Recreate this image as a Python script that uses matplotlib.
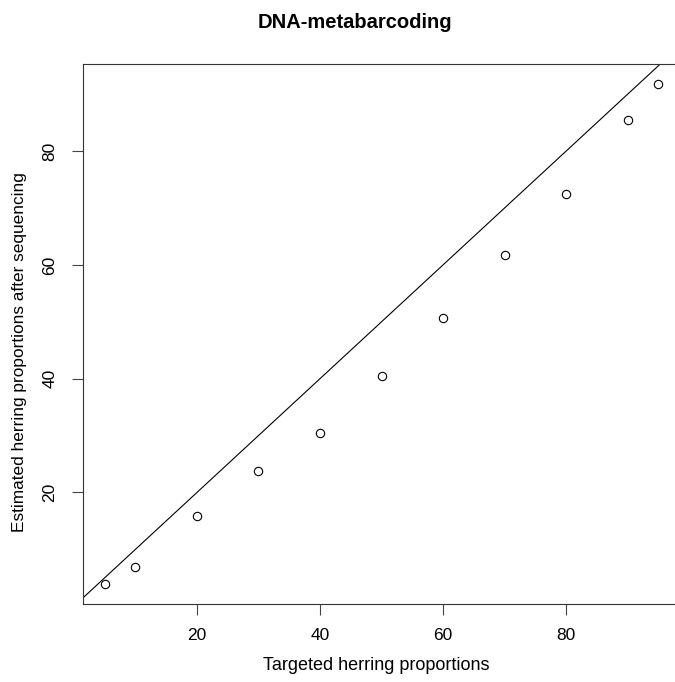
import matplotlib
matplotlib.use("Agg")
import matplotlib.pyplot as plt
import numpy as np

targeted = [5, 10, 20, 30, 40, 50, 60, 70, 80, 90, 95]
estimated = [3.9, 6.8, 15.9, 23.7, 30.4, 40.4, 50.6, 61.8, 72.4, 85.5, 91.9]
ticks = [20, 40, 60, 80]
title = "DNA-metabarcoding"
xlabel = "Targeted herring proportions"
ylabel = "Estimated herring proportions after sequencing"

plt.rcParams['font.family'] = ['Liberation Sans', 'DejaVu Sans']

W, H = 675, 682
fig = plt.figure(figsize=(W / 100, H / 100), dpi=100)

left, right, top, bottom = 82.6, 680.4, 63.5, 604.0
ax = fig.add_axes([left / W, 1 - bottom / H, (right - left) / W, (bottom - top) / H])

def rlim(v):
    lo, hi = min(v), max(v)
    d = (hi - lo) * 0.04
    return lo - d, hi + d

ax.plot(targeted, estimated, linestyle='none', marker='o', markersize=6,
        markerfacecolor='none', markeredgecolor='black', markeredgewidth=0.8)
xl = rlim(targeted)
yl = rlim(estimated)
ax.set_xlim(*xl)
ax.set_ylim(*yl)
ax.axline((0, 0), slope=1, color='black', linewidth=0.8)

ax.set_xticks(ticks)
ax.set_yticks(ticks)
ax.set_xticklabels([str(t) for t in ticks], fontsize=12.5)
ax.set_yticklabels([str(t) for t in ticks], fontsize=12.5, rotation=90, va='center')
ax.tick_params(axis='both', direction='out', length=8, width=0.8, color='#444444')
ax.tick_params(axis='x', pad=9)
ax.tick_params(axis='y', pad=10)
for s in ax.spines.values():
    s.set_linewidth(0.8)
    s.set_color('#333333')

fig.text(355 / W, 1 - 22 / H, title, ha='center', va='center', fontsize=14.5, fontweight='bold')
fig.text(376.5 / W, 1 - 666 / H, xlabel, ha='center', va='center', fontsize=13)
fig.text(20 / W, 1 - 352.5 / H, ylabel, ha='center', va='center', fontsize=12.4, rotation=90)

fig.savefig("out.png", dpi=100)
